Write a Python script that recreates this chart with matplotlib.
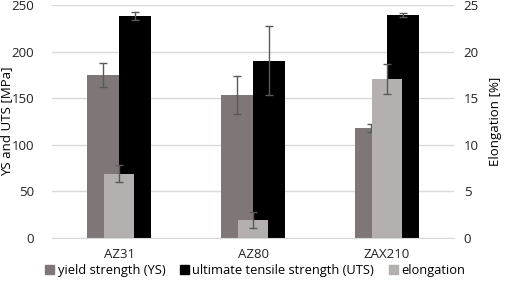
import numpy as np
import matplotlib.pyplot as plt
from matplotlib.patches import Patch

plt.rcParams['font.family'] = ['Open Sans', 'DejaVu Sans']

# data to plot
alloys = ['AZ31', 'AZ80', 'ZAX210']
ys = [175, 153.5, 118]
ys_err = [12.5, 20, 4]
uts = [238, 190, 239.5]
uts_err = [4.5, 37, 2]
elongation = [6.9, 1.9, 17.1]
elongation_err = [0.9, 0.85, 1.6]

c_ys = '#7f7777'
c_uts = '#000000'
c_el = '#b4b0b0'
c_err = '#595959'

fig = plt.figure(figsize=(5.05, 2.82), dpi=100)
ax = fig.add_axes([52 / 505, 44 / 282, 402 / 505, 233 / 282])
ax2 = ax.twinx()

index = np.arange(len(alloys))
bar_width = 0.24
ekw = dict(ecolor=c_err, elinewidth=1.0, capsize=3, capthick=1.0)

ax.bar(index - bar_width / 2, ys, bar_width, color=c_ys, yerr=ys_err, error_kw=ekw, zorder=2)
ax.bar(index + bar_width / 2, uts, bar_width, color=c_uts, yerr=uts_err, error_kw=ekw, zorder=2)
ax2.bar(index, elongation, 0.22, color=c_el, yerr=elongation_err, error_kw=ekw, zorder=2)

ax.set_xlim(-0.5, 2.5)
ax.set_ylim(0, 250)
ax2.set_ylim(0, 25)
ax.set_yticks(range(0, 251, 50))
ax2.set_yticks(range(0, 26, 5))
ax.yaxis.grid(True, color='#d9d9d9', linewidth=1.0, zorder=0)
ax.set_axisbelow(True)

for a in (ax, ax2):
    for s in a.spines.values():
        s.set_visible(False)
    a.tick_params(length=0, labelsize=9.5, colors='#222222')
ax.spines['bottom'].set_visible(True)
ax.spines['bottom'].set_color('#d9d9d9')
ax.tick_params(axis='y', pad=13)
ax2.tick_params(axis='y', pad=7)

ax.set_xticks(index)
ax.set_xticklabels(alloys)
ax.tick_params(axis='x', pad=7)
ax.set_ylabel('YS and UTS [MPa]', fontsize=9.5)
ax.yaxis.set_label_coords(-0.096, 0.5)
ax2.set_ylabel('Elongation [%]', fontsize=9.5)
ax2.yaxis.set_label_coords(1.087, 0.5)

handles = [Patch(color=c_ys), Patch(color=c_uts), Patch(color=c_el)]
labels = ['yield strength (YS)', 'ultimate tensile strength (UTS)', 'elongation']
fig.legend(handles, labels, loc='lower center', bbox_to_anchor=(0.505, -0.025), ncol=3,
           frameon=False, fontsize=9.3, handlelength=0.7, handleheight=0.7,
           handletextpad=0.3, columnspacing=1.1)

fig.savefig('out.png', dpi=100)
